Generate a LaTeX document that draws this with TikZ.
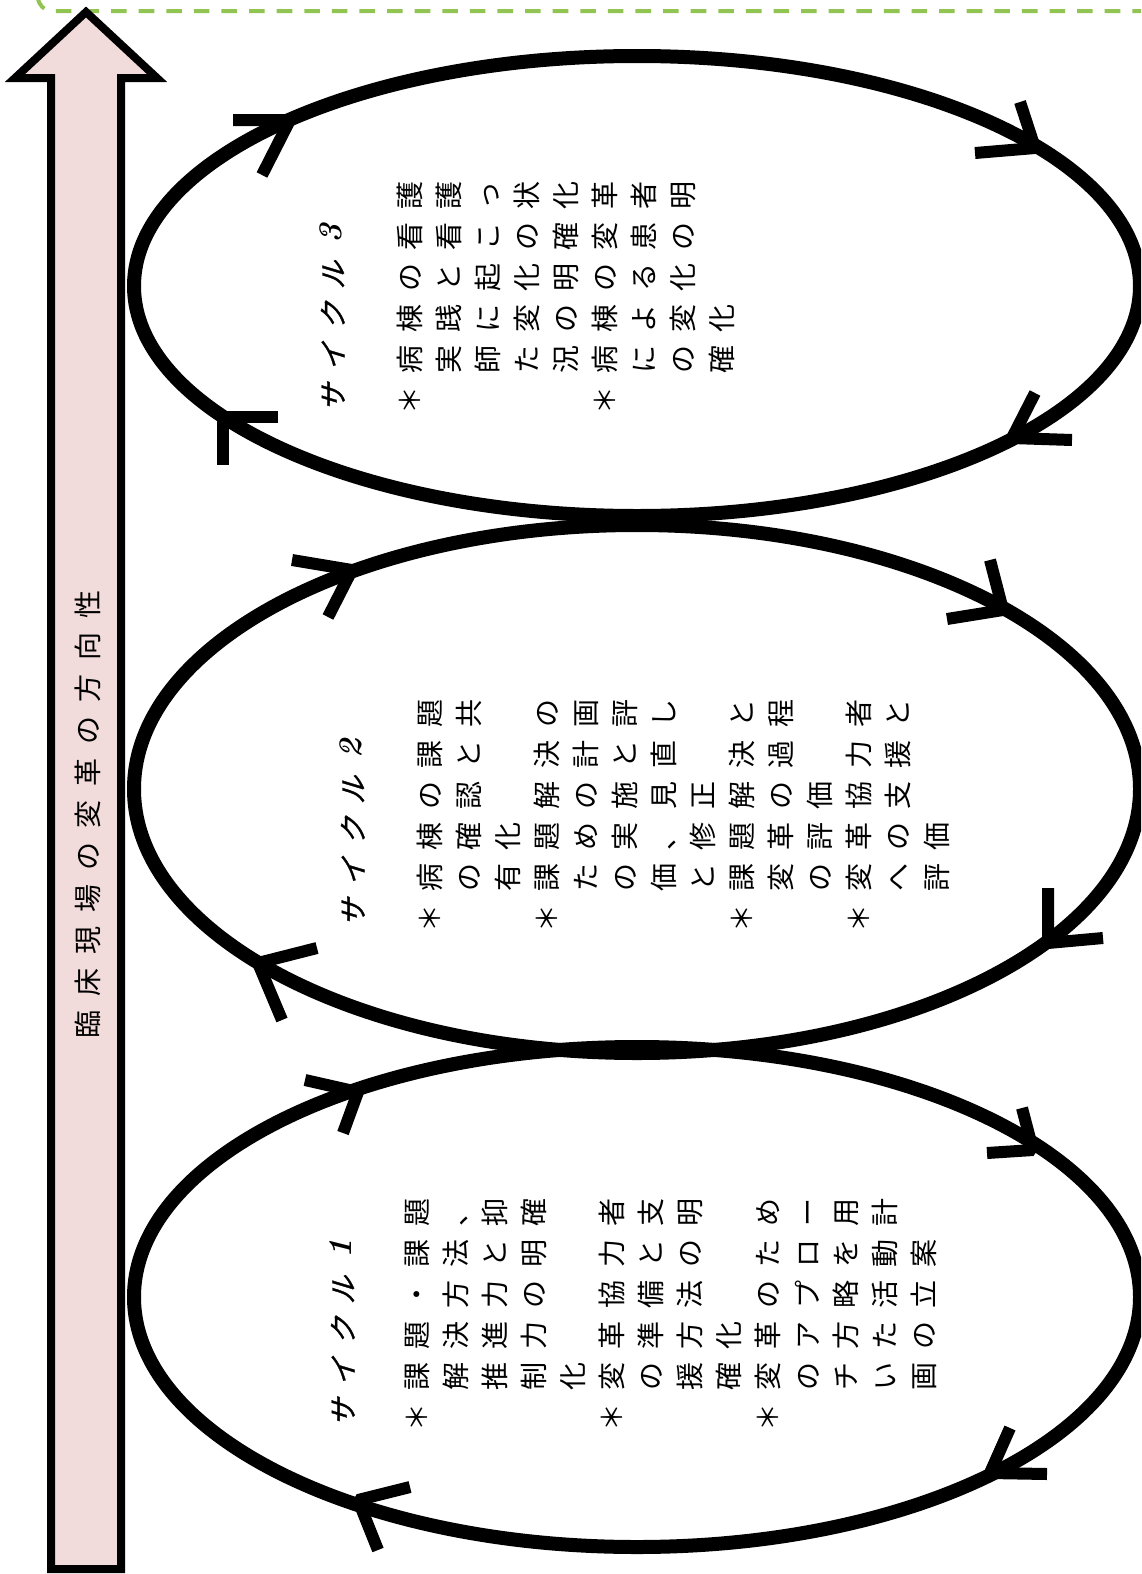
\documentclass[tikz,border=0pt]{standalone}
\usepackage{fontspec}
\newfontfamily\jp{Noto Sans CJK JP}
\newfontfamily\jpsl[FakeSlant=0.3,FakeBold=1.2]{Noto Sans CJK JP}
\newlength\cpitch
\setlength\cpitch{20.5pt}
\def\spcaux#1{\ifx\relax#1\else\hbox to\cpitch{\hss#1\hss}\expandafter\spcaux\fi}
\newcommand\spc[1]{\spcaux#1\relax}
\newcommand\ttlnum[1]{\hbox to\cpitch{\hss\raisebox{1.2pt}{\normalfont\bfseries\itshape\fontsize{16.5pt}{16.5pt}\selectfont #1}\hss}}
\definecolor{pinkfill}{RGB}{242,220,219}
\definecolor{dashgreen}{RGB}{146,196,83}
\begin{document}
\begin{tikzpicture}[x=0.5pt,y=-0.5pt,
  cyc/.style={draw=black,line width=7pt},
  tipv/.style={draw=black,line width=6pt,line join=bevel},
  txt/.style={rotate=90,anchor=west,inner sep=0pt,font=\jp\fontsize{14pt}{14pt}\selectfont},
  ttl/.style={rotate=90,anchor=west,inner sep=0pt,font=\jpsl\fontsize{14pt}{14pt}\selectfont},
  bigarrow/.style={draw=black,line width=4pt,fill=pinkfill,line join=miter},
  frame/.style={draw=dashgreen,line width=2pt,dash pattern=on 7.8pt off 6pt,rounded corners=7pt}]
\useasboundingbox (0,0) rectangle (1141,1574);
\clip (0,0) rectangle (1141,1574);

% dashed frame edge
\draw[frame] (38,-60) -- (38,11) -- (1200,11);

% big arrow
\draw[bigarrow] (51,1569) -- (51,78) -- (15,78) -- (86,12) -- (157,78) -- (121,78) -- (121,1569) -- cycle;
\setlength\cpitch{21pt}
\node[txt] (dir) at (88,1046) {\spc{臨床現場の変革の方向性}};
\setlength\cpitch{20.5pt}

% ellipses
\coordinate (e3) at (637,286);
\coordinate (e2) at (637,789);
\coordinate (e1) at (637,1297);
\draw[cyc] (e3) ellipse [x radius=251.5pt, y radius=115pt];
\draw[cyc] (e2) ellipse [x radius=251.5pt, y radius=132pt];
\draw[cyc] (e1) ellipse [x radius=251.5pt, y radius=125pt];

% arrowheads cycle 3
\draw[tipv] (233,120) -- (290,120) -- (262,175);
\draw[tipv] (975,153) -- (1035,148) -- (1020,102);
\draw[tipv] (1072,440) -- (1012,438) -- (1035,393);
\draw[tipv] (278,417) -- (223,417) -- (223,465);
% arrowheads cycle 2
\draw[tipv] (292,560) -- (352,570) -- (328,617);
\draw[tipv] (947,619) -- (1003,610) -- (990,560);
\draw[tipv] (1048,888) -- (1048,943) -- (1103,938);
\draw[tipv] (317,948) -- (258,963) -- (282,1020);
% arrowheads cycle 1
\draw[tipv] (305,1080) -- (358,1092) -- (343,1133);
\draw[tipv] (987,1153) -- (1033,1150) -- (1022,1108);
\draw[tipv] (1047,1474) -- (990,1473) -- (1010,1428);
\draw[tipv] (410,1487) -- (358,1500) -- (378,1550);

% cycle 3 text
\node[ttl] (c3t) at (332,419) {\spc{サイクル}\ttlnum{3}};
\node[txt] (c3a) at (410,421) {\spc{＊病棟の看護}};
\node[txt] (c3b) at (449,421) {\spc{　実践と看護}};
\node[txt] (c3c) at (488,421) {\spc{　師に起こっ}};
\node[txt] (c3d) at (527,421) {\spc{　た変化の状}};
\node[txt] (c3e) at (566,421) {\spc{　況の明確化}};
\node[txt] (c3f) at (605,421) {\spc{＊病棟の変革}};
\node[txt] (c3g) at (644,421) {\spc{　による患者}};
\node[txt] (c3h) at (683,421) {\spc{　の変化の明}};
\node[txt] (c3i) at (722,421) {\spc{　確化}};

% cycle 2 text
\node[ttl] (c2t) at (352,934) {\spc{サイクル}\ttlnum{2}};
\node[txt] (c2a) at (430,939) {\spc{＊病棟の課題}};
\node[txt] (c2b) at (469,939) {\spc{　の確認と共}};
\node[txt] (c2c) at (508,939) {\spc{　有化}};
\node[txt] (c2d) at (547,939) {\spc{＊課題解決の}};
\node[txt] (c2e) at (586,939) {\spc{　ための計画}};
\node[txt] (c2f) at (625,939) {\spc{　の実施と評}};
\node[txt] (c2g) at (664,939) {\spc{　価、見直し}};
\node[txt] (c2h) at (703,939) {\spc{　と修正}};
\node[txt] (c2i) at (742,939) {\spc{＊課題解決と}};
\node[txt] (c2j) at (781,939) {\spc{　変革の過程}};
\node[txt] (c2k) at (820,939) {\spc{　の評価}};
\node[txt] (c2l) at (859,939) {\spc{＊変革協力者}};
\node[txt] (c2m) at (898,939) {\spc{　への支援と}};
\node[txt] (c2n) at (937,939) {\spc{　評価}};

% cycle 1 text
\node[ttl] (c1t) at (342,1434) {\spc{サイクル}\ttlnum{1}};
\node[txt] (c1a) at (417,1438) {\spc{＊課題・課題}};
\node[txt] (c1b) at (456,1438) {\spc{　解決方法、}};
\node[txt] (c1c) at (495,1438) {\spc{　推進力と抑}};
\node[txt] (c1d) at (534,1438) {\spc{　制力の明確}};
\node[txt] (c1e) at (573,1438) {\spc{　化}};
\node[txt] (c1f) at (612,1438) {\spc{＊変革協力者}};
\node[txt] (c1g) at (651,1438) {\spc{　の準備と支}};
\node[txt] (c1h) at (690,1438) {\spc{　援方法の明}};
\node[txt] (c1i) at (729,1438) {\spc{　確化}};
\node[txt] (c1j) at (768,1438) {\spc{＊変革のため}};
\node[txt] (c1k) at (807,1438) {\spc{　のアプロー}};
\node[txt] (c1l) at (846,1438) {\spc{　チ方略を用}};
\node[txt] (c1m) at (885,1438) {\spc{　いた活動計}};
\node[txt] (c1n) at (924,1438) {\spc{　画の立案}};
\end{tikzpicture}
\end{document}
